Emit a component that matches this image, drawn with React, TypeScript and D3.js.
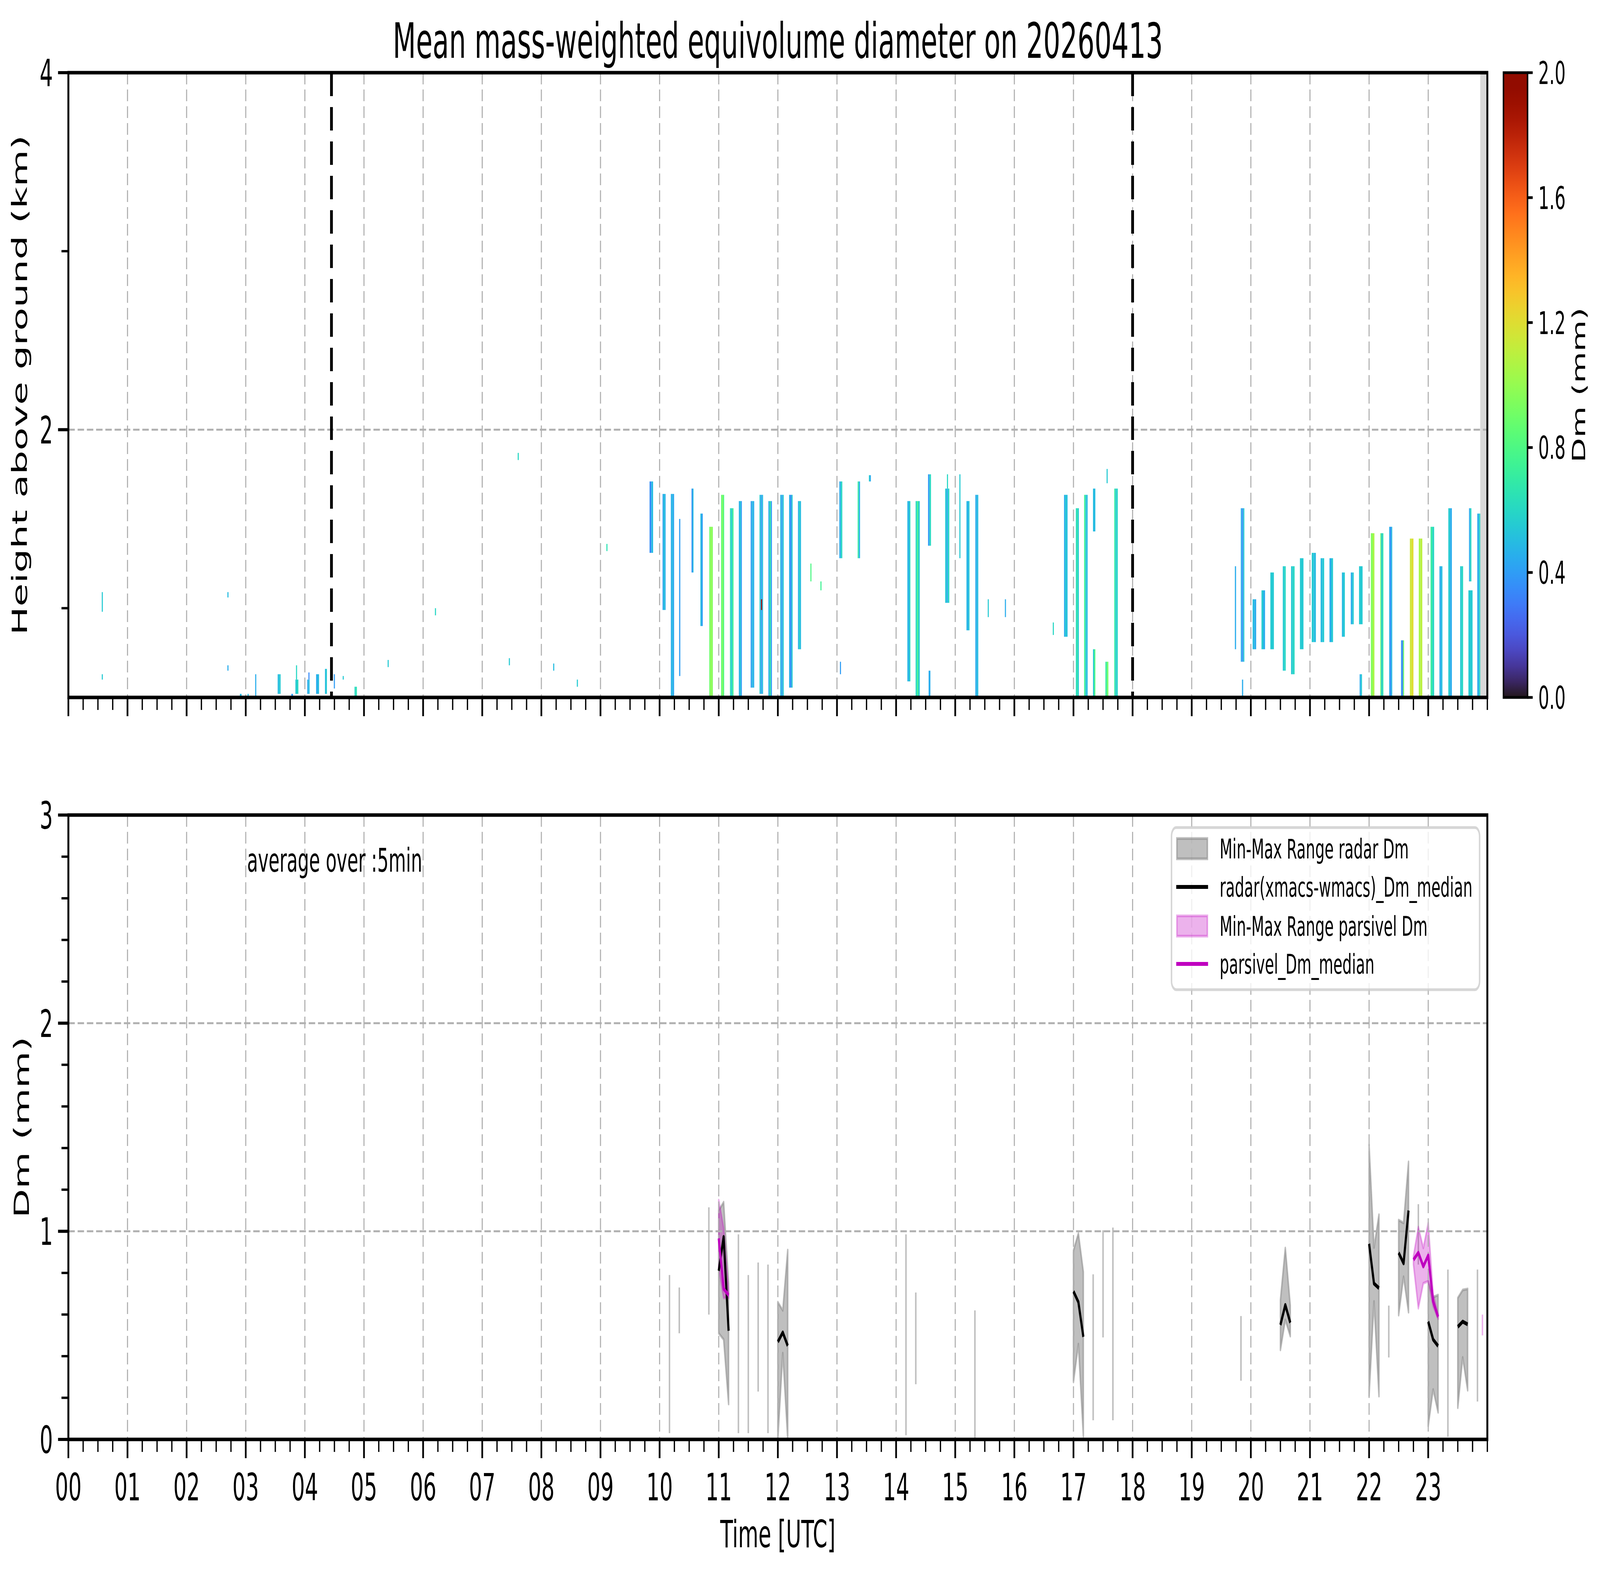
import React from "react";
import * as d3 from "d3";

// ---------------- DATA ----------------
const TITLE = "Mean mass-weighted equivolume diameter on 20260413";
const HOUR_LABELS = ["00","01","02","03","04","05","06","07","08","09","10","11","12","13","14","15","16","17","18","19","20","21","22","23"];
const TOP_Y_MAJOR = [2, 4];
const TOP_Y_MINOR = [1, 3];
const BOT_Y_MAJOR = [0, 1, 2, 3];
const CB_TICKS = [0.0, 0.4, 0.8, 1.2, 1.6, 2.0];
const DASHED_MARKERS = [4.45, 18.0];
const MISSING_SPAN = [23.88, 24.0];

// radar Dm curtain: [tStart(h), tEnd(h), zBottom(km), zTop(km), Dm values across the column (mm)]
const MESH: [number, number, number, number, number[]][] = [
  [0.565, 0.58, 0.98, 1.09, [0.55]],
  [0.565, 0.575, 0.6, 0.63, [0.55]],
  [2.69, 2.7, 1.06, 1.09, [0.5]],
  [2.69, 2.7, 0.65, 0.68, [0.45]],
  [2.9, 2.93, 0.5, 0.52, [0.5]],
  [3.03, 3.05, 0.5, 0.52, [0.5]],
  [3.16, 3.17, 0.5, 0.63, [0.45]],
  [3.54, 3.59, 0.52, 0.63, [0.5, 0.55]],
  [3.77, 3.8, 0.5, 0.52, [0.4]],
  [3.84, 3.89, 0.52, 0.6, [0.55, 0.6]],
  [3.85, 3.86, 0.6, 0.68, [0.6]],
  [4.04, 4.08, 0.52, 0.6, [0.45, 0.5]],
  [4.06, 4.07, 0.6, 0.64, [0.35]],
  [4.19, 4.24, 0.52, 0.63, [0.45, 0.5]],
  [4.34, 4.37, 0.52, 0.66, [0.5, 0.55]],
  [4.49, 4.5, 0.55, 0.63, [0.4]],
  [4.64, 4.65, 0.6, 0.62, [0.55]],
  [4.84, 4.88, 0.5, 0.56, [0.6, 0.65]],
  [5.4, 5.41, 0.67, 0.71, [0.55]],
  [6.2, 6.21, 0.96, 1.0, [0.6]],
  [7.45, 7.46, 0.68, 0.72, [0.55]],
  [7.6, 7.61, 1.83, 1.87, [0.6]],
  [8.2, 8.21, 0.65, 0.69, [0.5]],
  [8.6, 8.61, 0.56, 0.6, [0.55]],
  [9.1, 9.11, 1.32, 1.36, [0.65]],
  [9.83, 9.89, 1.31, 1.71, [0.35, 0.5]],
  [10.05, 10.1, 0.99, 1.64, [0.4, 0.55, 0.45]],
  [10.19, 10.245, 0.5, 1.64, [0.45, 0.5, 0.42]],
  [10.33, 10.35, 0.62, 1.5, [0.4]],
  [10.54, 10.57, 1.2, 1.67, [0.35, 0.5]],
  [10.69, 10.73, 0.9, 1.53, [0.5, 0.4]],
  [10.84, 10.9, 0.5, 1.456, [0.9, 1.0, 0.95]],
  [11.04, 11.09, 0.5, 1.635, [0.85, 0.95, 0.8]],
  [11.19, 11.25, 0.5, 1.56, [0.65, 0.55, 0.75]],
  [11.34, 11.39, 0.5, 1.6, [0.45, 0.55, 0.4]],
  [11.54, 11.6, 0.555, 1.6, [0.4, 0.5, 0.45]],
  [11.69, 11.75, 0.52, 1.635, [0.55, 0.4, 0.5]],
  [11.715, 11.72, 0.99, 1.05, [1.9]],
  [11.84, 11.9, 0.5, 1.6, [0.45, 0.7, 0.4]],
  [12.04, 12.1, 0.5, 1.635, [0.5, 0.4, 0.55]],
  [12.19, 12.25, 0.555, 1.635, [0.45, 0.35, 0.55]],
  [12.34, 12.39, 0.77, 1.6, [0.45, 0.6, 0.5]],
  [12.55, 12.56, 1.15, 1.25, [0.8]],
  [12.72, 12.725, 1.1, 1.15, [0.75]],
  [13.04, 13.09, 1.28, 1.71, [0.45, 0.6]],
  [13.05, 13.06, 0.63, 0.7, [0.4]],
  [13.35, 13.39, 1.28, 1.71, [0.7, 0.45]],
  [13.54, 13.57, 1.71, 1.745, [0.55, 0.45]],
  [14.19, 14.24, 0.59, 1.6, [0.5, 0.45, 0.6]],
  [14.33, 14.4, 0.5, 1.6, [0.6, 0.75, 0.55]],
  [14.54, 14.59, 1.35, 1.75, [0.4, 0.6]],
  [14.55, 14.58, 0.5, 0.65, [0.45]],
  [14.83, 14.9, 1.03, 1.67, [0.55, 0.45, 0.6]],
  [14.86, 14.87, 1.67, 1.75, [0.6]],
  [15.07, 15.08, 1.28, 1.75, [0.55]],
  [15.19, 15.24, 0.876, 1.6, [0.5, 0.45, 0.55]],
  [15.34, 15.39, 0.5, 1.635, [0.45, 0.5]],
  [15.55, 15.555, 0.95, 1.05, [0.55]],
  [15.84, 15.845, 0.95, 1.05, [0.45]],
  [16.65, 16.655, 0.85, 0.92, [0.6]],
  [16.84, 16.9, 0.84, 1.635, [0.45, 0.55, 0.5]],
  [17.04, 17.09, 0.5, 1.56, [0.6, 0.7, 0.55]],
  [17.18, 17.24, 0.5, 1.635, [0.75, 0.55, 0.5]],
  [17.33, 17.37, 1.43, 1.67, [0.5]],
  [17.33, 17.37, 0.5, 0.77, [0.55, 0.8]],
  [17.54, 17.59, 0.5, 0.7, [0.7, 0.9]],
  [17.56, 17.57, 1.7, 1.78, [0.55]],
  [17.69, 17.75, 0.5, 1.67, [0.7, 0.55, 0.6]],
  [19.73, 19.75, 0.77, 1.235, [0.45]],
  [19.83, 19.89, 0.7, 1.56, [0.45, 0.35, 0.55]],
  [19.85, 19.87, 0.5, 0.6, [0.45]],
  [20.03, 20.09, 0.77, 1.05, [0.5, 0.45]],
  [20.18, 20.24, 0.77, 1.1, [0.55, 0.45]],
  [20.33, 20.39, 0.77, 1.2, [0.55]],
  [20.54, 20.59, 0.65, 1.235, [0.55, 0.6]],
  [20.68, 20.74, 0.63, 1.235, [0.55, 0.6]],
  [20.83, 20.89, 0.77, 1.28, [0.55]],
  [21.03, 21.1, 0.81, 1.31, [0.55, 0.5]],
  [21.18, 21.24, 0.81, 1.28, [0.5, 0.55]],
  [21.33, 21.39, 0.81, 1.28, [0.45, 0.55]],
  [21.54, 21.59, 0.84, 1.2, [0.5, 0.55]],
  [21.69, 21.74, 0.91, 1.2, [0.45, 0.55]],
  [21.83, 21.89, 0.91, 1.235, [0.55]],
  [21.84, 21.88, 0.5, 0.63, [0.45, 0.55]],
  [22.03, 22.09, 0.5, 1.42, [0.95, 1.05]],
  [22.19, 22.24, 0.5, 1.42, [0.85, 0.5, 0.7]],
  [22.34, 22.39, 0.5, 1.456, [0.45, 0.35, 0.5]],
  [22.54, 22.59, 0.5, 0.82, [0.4, 0.3, 0.9]],
  [22.69, 22.75, 0.5, 1.39, [1.15, 1.2]],
  [22.84, 22.9, 0.5, 1.39, [1.05, 1.1]],
  [23.04, 23.1, 0.5, 1.456, [0.7, 0.6]],
  [23.19, 23.24, 0.5, 1.235, [0.45, 0.5]],
  [23.34, 23.4, 0.5, 1.56, [0.55, 0.45]],
  [23.54, 23.59, 0.5, 1.235, [0.55, 0.6]],
  [23.68, 23.75, 0.5, 1.1, [0.55]],
  [23.69, 23.73, 1.15, 1.56, [0.45, 0.6]],
  [23.83, 23.89, 0.5, 1.53, [0.45, 0.6]],
];

// 5-minute radar Dm statistics
const RADAR_TIME = [10.167, 10.333, 10.833, 11.0, 11.083, 11.167, 11.333, 11.5, 11.667, 11.833, 12.0, 12.083, 12.167, 14.167, 14.333, 15.333, 17.0, 17.083, 17.167, 17.333, 17.5, 17.667, 19.833, 20.5, 20.583, 20.667, 22.0, 22.083, 22.167, 22.333, 22.5, 22.583, 22.667, 22.833, 23.0, 23.083, 23.167, 23.333, 23.5, 23.583, 23.667, 23.833];
const RADAR_MIN = [0.03, 0.51, 0.6, 0.51, 0.48, 0.17, 0.03, 0.03, 0.23, 0.03, 0.0, 0.415, 0.0, 0.02, 0.265, 0.0, 0.276, 0.458, 0.015, 0.092, 0.49, 0.092, 0.282, 0.43, 0.574, 0.496, 0.21, 0.663, 0.208, 0.394, 0.597, 0.782, 0.611, 0.84, 0.064, 0.24, 0.13, 0.012, 0.152, 0.394, 0.236, 0.182];
const RADAR_MAX = [0.79, 0.73, 1.115, 1.1, 1.14, 0.75, 0.985, 0.79, 0.85, 0.84, 0.66, 0.62, 0.91, 0.985, 0.706, 0.62, 0.908, 0.99, 0.805, 0.793, 1.005, 1.018, 0.593, 0.67, 0.92, 0.644, 1.415, 0.922, 1.08, 0.643, 1.054, 1.04, 1.334, 1.13, 0.76, 0.683, 0.694, 0.816, 0.68, 0.718, 0.723, 0.816];
const RADAR_MEDIAN: (number | null)[] = [null, null, null, 0.81, 0.973, 0.522, null, null, null, null, 0.469, 0.514, 0.45, null, null, null, 0.711, 0.66, 0.493, null, null, null, null, 0.55, 0.646, 0.561, 0.94, 0.749, 0.727, null, 0.897, 0.846, 1.1, null, 0.566, 0.48, 0.449, null, 0.541, 0.566, 0.553, null];

// 5-minute parsivel Dm statistics
const PARS_TIME = [11.0, 11.083, 11.167, 22.75, 22.833, 22.917, 23.0, 23.083, 23.167, 23.917];
const PARS_MIN = [0.82, 0.68, 0.68, 0.84, 0.63, 0.75, 0.76, 0.64, 0.58, 0.5];
const PARS_MAX = [1.15, 1.017, 0.71, 0.88, 1.02, 0.92, 1.04, 0.7, 0.6, 0.6];
const PARS_MEDIAN: (number | null)[] = [0.966, 0.724, 0.693, 0.863, 0.897, 0.831, 0.884, 0.663, 0.589, null];

const LEGEND_ITEMS = [
  { kind: "patch", label: "Min-Max Range radar Dm", color: "#808080", alpha: 0.5 },
  { kind: "line", label: "radar(xmacs-wmacs)_Dm_median", color: "#000000", alpha: 1 },
  { kind: "patch", label: "Min-Max Range parsivel Dm", color: "#bf00bf", alpha: 0.3 },
  { kind: "line", label: "parsivel_Dm_median", color: "#bf00bf", alpha: 1 },
];

// ---------------- LAYOUT ----------------
const W = 7442;
const H = 4031;
const X0 = 318;
const X1 = 6918;
const TOP_Y0 = 186;
const TOP_Y1 = 1785;
const BOT_Y0 = 2086;
const BOT_Y1 = 3684;
const CB_X0 = 6993;
const CB_X1 = 7105;
const FONT = "DejaVu Sans, Liberation Sans, sans-serif";
const GRID = { stroke: "#b0b0b0", strokeWidth: 5, strokeDasharray: "30 13" };
const SPINE = 9;

type Stats = { t: number[]; lo: number[]; hi: number[]; med: (number | null)[] };

function runs(t: number[]): number[][] {
  const out: number[][] = [];
  let cur: number[] = [];
  t.forEach((v, i) => {
    if (i > 0 && v - t[i - 1] > 0.09) {
      out.push(cur);
      cur = [];
    }
    cur.push(i);
  });
  if (cur.length) out.push(cur);
  return out;
}

export default function App() {
  const x = d3.scaleLinear().domain([0, 24]).range([X0, X1]);
  const yTop = d3.scaleLinear().domain([0.5, 4]).range([TOP_Y1, TOP_Y0]);
  const yBot = d3.scaleLinear().domain([0, 3]).range([BOT_Y1, BOT_Y0]);
  const color = d3.scaleSequential(d3.interpolateTurbo).domain([0, 2]);
  const cbY = d3.scaleLinear().domain([0, 2]).range([TOP_Y1, TOP_Y0]);

  const majorX = d3.range(0, 24);
  const minorX = d3.range(0, 97).map((i) => i * 0.25).filter((v) => Math.abs(v - Math.round(v)) > 1e-6 || v === 24);
  const botMinor = d3.range(0, 16).map((i) => i * 0.2).filter((v) => Math.abs(v - Math.round(v)) > 1e-6);

  const drawStats = (s: Stats, col: string, alpha: number, lineCol: string, key: string) => {
    const els: React.ReactNode[] = [];
    const lines: React.ReactNode[] = [];
    runs(s.t).forEach((r, k) => {
      if (r.length === 1) {
        const i = r[0];
        els.push(
          <line key={`${key}v${k}`} x1={x(s.t[i])} x2={x(s.t[i])} y1={yBot(s.lo[i])} y2={yBot(s.hi[i])}
            stroke={col} strokeOpacity={alpha} strokeWidth={7} />
        );
      } else {
        const area = d3.area<number>().x((i) => x(s.t[i])).y0((i) => yBot(s.lo[i])).y1((i) => yBot(s.hi[i]));
        els.push(
          <path key={`${key}a${k}`} d={area(r) || ""} fill={col} fillOpacity={alpha} stroke={col}
            strokeOpacity={alpha} strokeWidth={7} strokeLinejoin="round" />
        );
        const ln = d3.line<number>().defined((i) => s.med[i] !== null).x((i) => x(s.t[i])).y((i) => yBot(s.med[i] as number));
        lines.push(
          <path key={`${key}l${k}`} d={ln(r) || ""} fill="none" stroke={lineCol} strokeWidth={10} strokeLinejoin="round" />
        );
      }
    });
    return { els, lines };
  };

  const radar = drawStats({ t: RADAR_TIME, lo: RADAR_MIN, hi: RADAR_MAX, med: RADAR_MEDIAN }, "#808080", 0.5, "#000000", "r");
  const pars = drawStats({ t: PARS_TIME, lo: PARS_MIN, hi: PARS_MAX, med: PARS_MEDIAN }, "#bf00bf", 0.3, "#bf00bf", "p");

  const xTicks = (y: number, labels: boolean) => (
    <g>
      {majorX.map((h) => (
        <line key={`M${h}`} x1={x(h)} x2={x(h)} y1={y} y2={y + 48} stroke="#000" strokeWidth={8} />
      ))}
      {minorX.map((h) => (
        <line key={`m${h}`} x1={x(h)} x2={x(h)} y1={y} y2={y + 32} stroke="#000" strokeWidth={6} />
      ))}
      {labels &&
        majorX.map((h) => (
          <text key={`L${h}`} x={x(h)} y={y + 156} textAnchor="middle" fontSize={97} fontFamily={FONT}>
            {HOUR_LABELS[h]}
          </text>
        ))}
    </g>
  );

  const legendRows = [2172, 2270, 2370, 2467];

  return (
    <svg viewBox={`0 0 ${W} ${H}`} preserveAspectRatio="none"
      style={{ position: "absolute", left: 0, top: 0, width: "100vw", height: "100vh", display: "block", background: "#fff" }}>
      <rect x={0} y={0} width={W} height={H} fill="#fff" />
      <defs>
        <clipPath id="clipTop">
          <rect x={X0} y={TOP_Y0} width={X1 - X0} height={TOP_Y1 - TOP_Y0} />
        </clipPath>
        <clipPath id="clipBot">
          <rect x={X0} y={BOT_Y0} width={X1 - X0} height={BOT_Y1 - BOT_Y0} />
        </clipPath>
        <linearGradient id="cbGrad" x1="0" y1="1" x2="0" y2="0">
          {d3.range(0, 41).map((i) => (
            <stop key={i} offset={`${(i / 40) * 100}%`} stopColor={color((i / 40) * 2)} />
          ))}
        </linearGradient>
      </defs>

      {/* title */}
      <text x={(X0 + X1) / 2} y={148} textAnchor="middle" fontSize={125} fontFamily={FONT}>{TITLE}</text>

      {/* ---------- TOP PANEL ---------- */}
      <g clipPath="url(#clipTop)">
        {MESH.map(([t0, t1, z0, z1, vals], k) => {
          const w = (x(t1) - x(t0)) / vals.length;
          return vals.map((v, j) => (
            <rect key={`c${k}_${j}`} x={x(t0) + j * w} y={yTop(z1)} width={Math.max(w, 5)} height={yTop(z0) - yTop(z1)} fill={color(v)} />
          ));
        })}
        <rect x={x(MISSING_SPAN[0])} y={TOP_Y0} width={x(MISSING_SPAN[1]) - x(MISSING_SPAN[0])} height={TOP_Y1 - TOP_Y0} fill="#d9d9d9" />
        {majorX.slice(1).map((h) => (
          <line key={`tg${h}`} x1={x(h)} x2={x(h)} y1={TOP_Y0} y2={TOP_Y1} {...GRID} />
        ))}
        {TOP_Y_MAJOR.map((v) => (
          <line key={`tgy${v}`} x1={X0} x2={X1} y1={yTop(v)} y2={yTop(v)} {...GRID} />
        ))}
        {DASHED_MARKERS.map((h) => (
          <line key={`dm${h}`} x1={x(h)} x2={x(h)} y1={TOP_Y0} y2={TOP_Y1} stroke="#000" strokeWidth={13} strokeDasharray="60 28" />
        ))}
      </g>
      <rect x={X0} y={TOP_Y0} width={X1 - X0} height={TOP_Y1 - TOP_Y0} fill="none" stroke="#000" strokeWidth={SPINE} />
      {xTicks(TOP_Y1, false)}
      {TOP_Y_MAJOR.map((v) => (
        <g key={`ty${v}`}>
          <line x1={X0 - 48} x2={X0} y1={yTop(v)} y2={yTop(v)} stroke="#000" strokeWidth={8} />
          <text x={X0 - 72} y={yTop(v) + 35} textAnchor="end" fontSize={97} fontFamily={FONT}>{v}</text>
        </g>
      ))}
      {TOP_Y_MINOR.map((v) => (
        <line key={`tym${v}`} x1={X0 - 32} x2={X0} y1={yTop(v)} y2={yTop(v)} stroke="#000" strokeWidth={6} />
      ))}
      <text transform={`translate(92,${(TOP_Y0 + TOP_Y1) / 2}) rotate(-90)`} textAnchor="middle" dominantBaseline="central" fontSize={97} fontFamily={FONT}>
        Height above ground (km)
      </text>

      {/* colorbar */}
      <rect x={CB_X0} y={TOP_Y0} width={CB_X1 - CB_X0} height={TOP_Y1 - TOP_Y0} fill="url(#cbGrad)" stroke="#000" strokeWidth={7} />
      {CB_TICKS.map((v) => (
        <g key={`cb${v}`}>
          <line x1={CB_X1} x2={CB_X1 + 24} y1={cbY(v)} y2={cbY(v)} stroke="#000" strokeWidth={7} />
          <text x={CB_X1 + 50} y={cbY(v) + 29} fontSize={80} fontFamily={FONT}>{v.toFixed(1)}</text>
        </g>
      ))}
      <text transform={`translate(7345,${(TOP_Y0 + TOP_Y1) / 2}) rotate(-90)`} textAnchor="middle" dominantBaseline="central" fontSize={83} fontFamily={FONT}>
        Dm (mm)
      </text>

      {/* ---------- BOTTOM PANEL ---------- */}
      <g clipPath="url(#clipBot)">
        {radar.els}
        {pars.els}
        {majorX.slice(1).map((h) => (
          <line key={`bg${h}`} x1={x(h)} x2={x(h)} y1={BOT_Y0} y2={BOT_Y1} {...GRID} />
        ))}
        {BOT_Y_MAJOR.slice(1, 3).map((v) => (
          <line key={`bgy${v}`} x1={X0} x2={X1} y1={yBot(v)} y2={yBot(v)} {...GRID} />
        ))}
        {radar.lines}
        {pars.lines}
      </g>
      <rect x={X0} y={BOT_Y0} width={X1 - X0} height={BOT_Y1 - BOT_Y0} fill="none" stroke="#000" strokeWidth={SPINE} />
      {xTicks(BOT_Y1, true)}
      {BOT_Y_MAJOR.map((v) => (
        <g key={`by${v}`}>
          <line x1={X0 - 48} x2={X0} y1={yBot(v)} y2={yBot(v)} stroke="#000" strokeWidth={8} />
          <text x={X0 - 72} y={yBot(v) + 35} textAnchor="end" fontSize={97} fontFamily={FONT}>{v}</text>
        </g>
      ))}
      {botMinor.map((v) => (
        <line key={`bym${v}`} x1={X0 - 32} x2={X0} y1={yBot(v)} y2={yBot(v)} stroke="#000" strokeWidth={6} />
      ))}
      <text transform={`translate(100,${(BOT_Y0 + BOT_Y1) / 2}) rotate(-90)`} textAnchor="middle" dominantBaseline="central" fontSize={97} fontFamily={FONT}>
        Dm (mm)
      </text>
      <text x={(X0 + X1) / 2} y={3960} textAnchor="middle" fontSize={97} fontFamily={FONT}>Time [UTC]</text>
      <text x={1149} y={2231} fontSize={83} fontFamily={FONT}>average over :5min</text>

      {/* legend */}
      <rect x={5449} y={2118} width={1433} height={415} rx={22} fill="#fff" fillOpacity={0.8} stroke="#cccccc" strokeOpacity={0.8} strokeWidth={7} />
      {LEGEND_ITEMS.map((it, i) => {
        const cy = legendRows[i];
        return (
          <g key={`lg${i}`}>
            {it.kind === "patch" ? (
              <rect x={5474} y={cy - 26} width={142} height={52} fill={it.color} fillOpacity={it.alpha} stroke={it.color} strokeOpacity={it.alpha} strokeWidth={7} />
            ) : (
              <line x1={5471} x2={5619} y1={cy} y2={cy} stroke={it.color} strokeWidth={10} />
            )}
            <text x={5673} y={cy + 25} fontSize={69} fontFamily={FONT}>{it.label}</text>
          </g>
        );
      })}
    </svg>
  );
}
